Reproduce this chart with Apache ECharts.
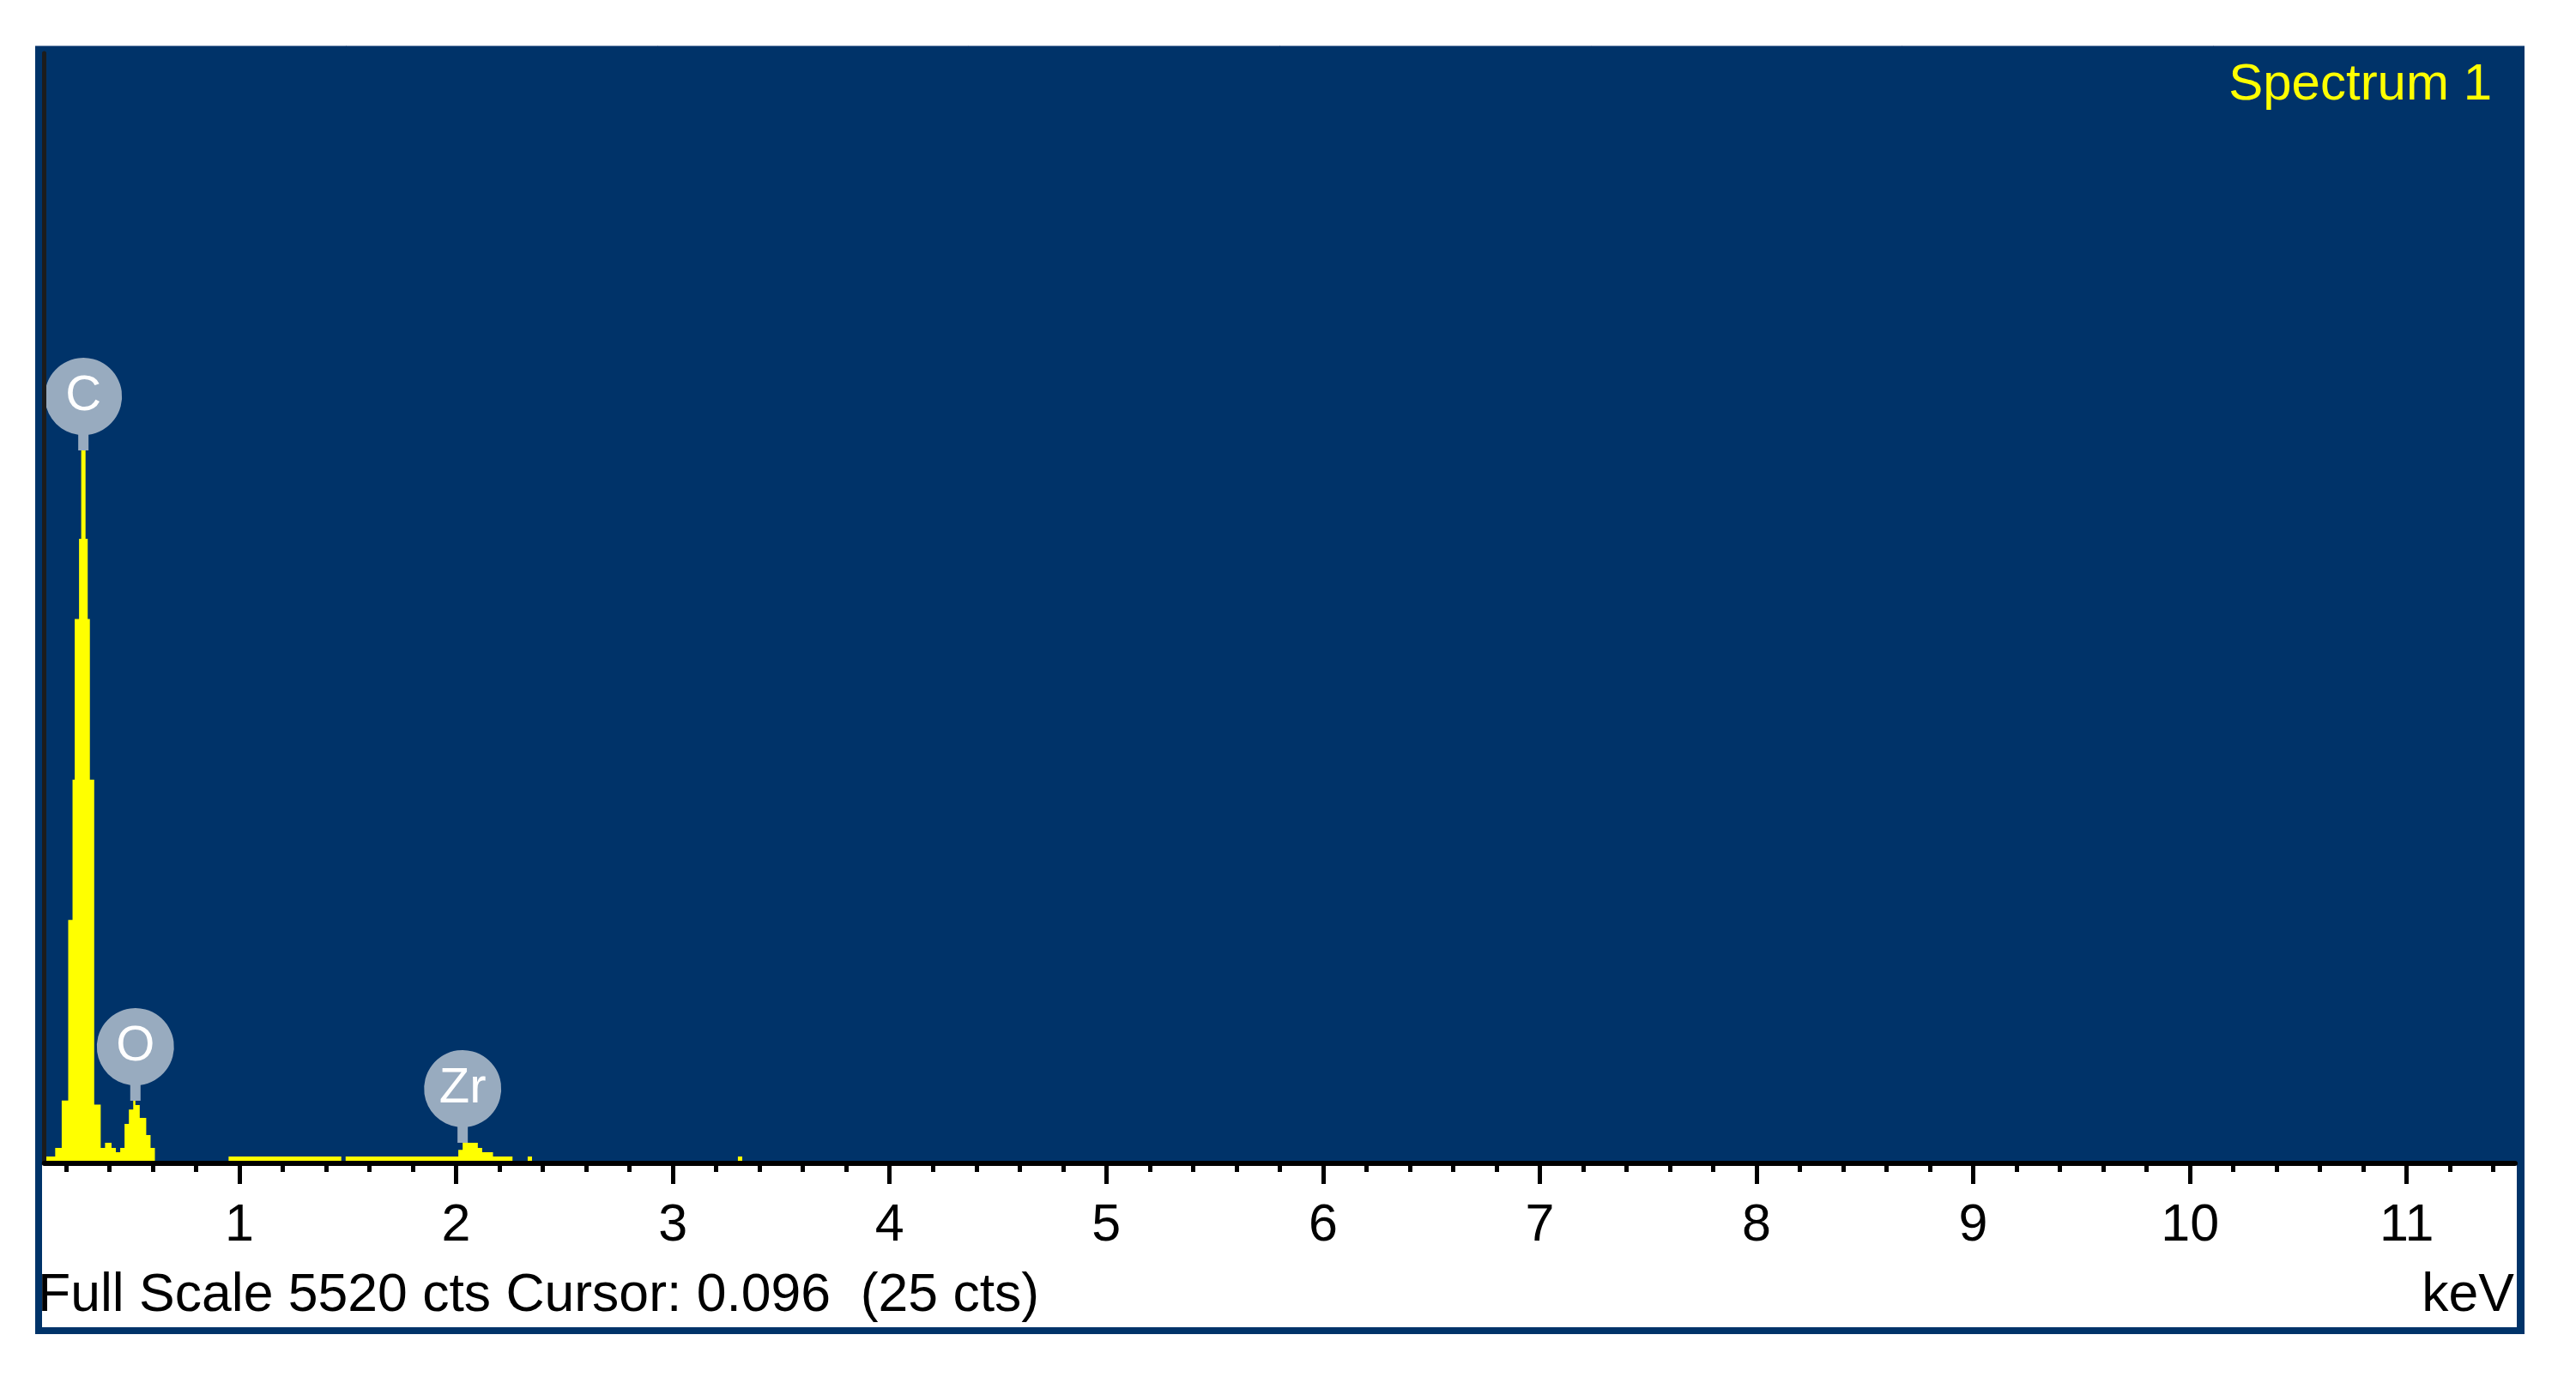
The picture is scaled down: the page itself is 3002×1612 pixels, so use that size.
<!DOCTYPE html>
<html>
<head>
<meta charset="utf-8">
<title>Spectrum 1</title>
<script src="https://cdn.jsdelivr.net/npm/echarts@6/dist/echarts.min.js"></script>
<style>
  html, body { margin: 0; padding: 0; background: #fff; }
  #chart { width: 3002px; height: 1612px; }
</style>
</head>
<body>
<div id="chart"></div>
<script>
// spectrum: left edge of each step (keV) and its counts
const energies = [0.10, 0.15, 0.18, 0.21, 0.23, 0.24, 0.26, 0.27, 0.29, 0.30, 0.31, 0.33, 0.36, 0.38, 0.41, 0.43,
  0.45, 0.47, 0.49, 0.51, 0.52, 0.54, 0.57, 0.59, 0.61, 0.95, 1.47, 1.49, 2.01, 2.03, 2.10, 2.12,
  2.17, 2.26, 2.33, 2.35, 3.30, 3.32, 11.5];
const counts = [21, 64, 300, 1200, 1900, 2700, 3100, 3540, 3100, 2700, 1900, 280, 64, 90, 64, 43,
  64, 184, 256, 299, 278, 214, 128, 64, 0, 21, 0, 21, 55, 90, 64, 43,
  21, 0, 21, 0, 21, 0, 0];

// element markers
const elementNames = ['C', 'O', 'Zr'];
const elementEnergies = [0.28, 0.52, 2.03];
const elementPeaks = [3540, 299, 90];

const fullScale = 5520;
const majorTicks = [1, 2, 3, 4, 5, 6, 7, 8, 9, 10, 11];
const minorTicks = [];
for (let i = 1; i <= 57; i++) {
  if (i % 5 !== 0) minorTicks.push(+(i * 0.2).toFixed(1));
}

const footerText = 'Full Scale 5520 cts Cursor: 0.096  (25 cts)';
const unitText = 'keV';
const titleText = 'Spectrum 1';

const FONT = 'Liberation Sans';
const pinPath = 'path://M6,44.6 A45,45 0 1 0 -6,44.6 L-6,63 L6,63 Z';

const chart = echarts.init(document.getElementById('chart'));
chart.setOption({
  backgroundColor: '#fff',
  animation: false,
  grid: { left: 51.7, right: 71, top: 62, bottom: 259 },
  xAxis: [
    {
      type: 'value', min: 0.1, max: 11.5, position: 'bottom', offset: 3, z: 10,
      axisLine: { show: true, onZero: false, lineStyle: { color: '#000', width: 6 } },
      axisTick: { show: true, customValues: majorTicks, length: 24, lineStyle: { color: '#000', width: 5 } },
      axisLabel: { show: true, customValues: majorTicks, margin: 43, color: '#000', fontSize: 61, fontFamily: FONT },
      splitLine: { show: false }
    },
    {
      type: 'value', min: 0.1, max: 11.5, position: 'bottom', offset: 3, z: 10,
      axisLine: { show: false },
      axisTick: { show: true, customValues: minorTicks, length: 13, lineStyle: { color: '#000', width: 5 } },
      axisLabel: { show: false },
      splitLine: { show: false }
    }
  ],
  yAxis: {
    type: 'value', min: 0, max: fullScale, z: 10,
    axisLine: { show: true, onZero: false, lineStyle: { color: '#1c1c1c', width: 5 } },
    axisTick: { show: false },
    axisLabel: { show: false },
    splitLine: { show: false }
  },
  graphic: [
    { type: 'rect', z: -10, shape: { x: 41, y: 53, width: 2901, height: 1502 }, style: { fill: '#003369' } },
    { type: 'line', z: -9, shape: { x1: 41, y1: 53.5, x2: 2942, y2: 53.5 }, style: { stroke: '#7f94b4', lineWidth: 1 } },
    { type: 'rect', z: -9, shape: { x: 49, y: 1356, width: 2884, height: 191 }, style: { fill: '#fff' } },
    {
      type: 'text', z: 100, x: 2904, y: 99,
      style: { text: titleText, fill: '#ffff00', fontSize: 60, fontFamily: FONT, align: 'right', textAlign: 'right', verticalAlign: 'middle', textVerticalAlign: 'middle' }
    },
    {
      type: 'text', z: 100, x: 44, y: 1511,
      style: { text: footerText, fill: '#000', fontSize: 62.5, fontFamily: FONT, align: 'left', textAlign: 'left', verticalAlign: 'middle', textVerticalAlign: 'middle' }
    },
    {
      type: 'text', z: 100, x: 2930, y: 1511,
      style: { text: unitText, fill: '#000', fontSize: 62.5, fontFamily: FONT, align: 'right', textAlign: 'right', verticalAlign: 'middle', textVerticalAlign: 'middle' }
    }
  ],
  series: [
    {
      name: titleText,
      type: 'line',
      step: 'end',
      symbol: 'none',
      data: energies.map((e, i) => [e, counts[i]]),
      lineStyle: { width: 0 },
      areaStyle: { color: '#ffff00', opacity: 1 },
      markPoint: {
        symbol: pinPath,
        symbolSize: [90, 108],
        symbolOffset: [0, -54],
        itemStyle: { color: '#98abbf' },
        label: {
          show: true, position: 'inside', offset: [0, -9], color: '#fff',
          fontSize: 58, fontFamily: FONT, formatter: p => p.name
        },
        data: elementNames.map((n, i) => ({ name: n, coord: [elementEnergies[i], elementPeaks[i]] }))
      }
    }
  ]
});
</script>
</body>
</html>
